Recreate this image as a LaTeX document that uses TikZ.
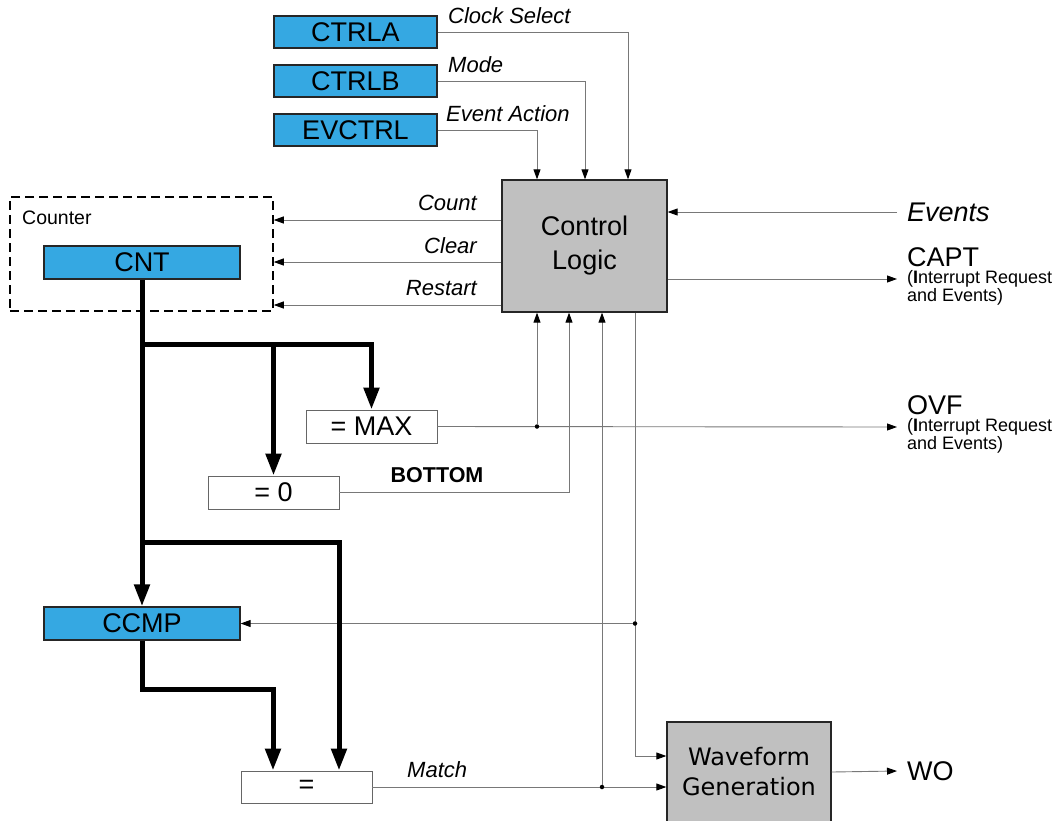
\documentclass[tikz,border=0pt]{standalone}
\usepackage{fontspec}
\setmainfont{Liberation Sans}
\newfontfamily\dvs{DejaVu Sans}
\usetikzlibrary{arrows.meta}
\definecolor{regblue}{RGB}{53,168,226}
\definecolor{logicgray}{RGB}{192,192,192}
\definecolor{wirec}{RGB}{120,120,120}
\newcommand{\fs}[1]{\fontsize{#1}{#1}\selectfont}
\begin{document}
\begin{tikzpicture}[x=1pt,y=-1pt,
  reg/.style={draw=black!85, line width=1.3pt, fill=regblue, inner sep=0pt, font=\fs{27}},
  cmpbox/.style={draw=black!60, line width=0.9pt, fill=white, inner sep=0pt, font=\fs{27}},
  logic/.style={draw=black!85, line width=1.3pt, fill=logicgray, inner sep=0pt, align=center},
  lbl/.style={inner sep=0pt, font=\fs{22}\itshape},
  outl/.style={inner sep=0pt, anchor=west},
  wire/.style={draw=wirec, line width=0.9pt},
  arr/.style={-{Triangle[length=10pt,width=7pt,color=black]}},
  bus/.style={draw=black, line width=5pt, line join=miter},
  busarr/.style={-{Triangle[length=22pt,width=15pt]}},
  dot/.style={circle, fill=black, inner sep=0pt, minimum size=4.5pt}
]
\useasboundingbox (0,0) rectangle (1063,820);

% register boxes
\node[reg, minimum width=163, minimum height=32] (ctrla) at (355.5,32) {CTRLA};
\node[reg, minimum width=163, minimum height=32] (ctrlb) at (355.5,81) {CTRLB};
\node[reg, minimum width=163, minimum height=32] (evctrl) at (355.5,130) {EVCTRL};
\node[lbl, anchor=west] (lcs) at (448,16) {Clock Select};
\node[lbl, anchor=west] (lmo) at (448,65) {Mode};
\node[lbl, anchor=west] (lea) at (446,114) {Event Action};

% control logic
\node[logic, minimum width=165, minimum height=132, font=\fs{27}] (ctrl) at (584.5,246) {Control\\[7pt]Logic};

% counter group
\node[draw=black, line width=1.5pt, dash pattern=on 9pt off 5pt, minimum width=263, minimum height=114, inner sep=0pt] (counter) at (141.5,254) {};
\node[inner sep=0pt, anchor=west, font=\fs{19.5}] (lcounter) at (22,218) {Counter};
\node[reg, minimum width=196, minimum height=33] (cnt) at (142,262.5) {CNT};

% comparators
\node[cmpbox, minimum width=131, minimum height=33] (max) at (371.5,426.5) {= MAX};
\node[cmpbox, minimum width=131, minimum height=33] (zero) at (273.5,492.5) {= 0};
\node[inner sep=0pt, font=\fs{21.5}\bfseries] (bottom) at (437,475) {BOTTOM};
\node[reg, minimum width=196, minimum height=33] (ccmp) at (142,623.5) {CCMP};
\node[cmpbox, minimum width=131, minimum height=32] (eq) at (306.5,787) {=};
\node[lbl, anchor=west] (lmatch) at (407,770) {Match};

% waveform generation
\node[logic, minimum width=164, minimum height=100, font=\dvs\fs{24}] (wave) at (749,772) {Waveform\\[6pt]Generation};

% outputs
\node[outl, font=\fs{27}\itshape] (ev) at (907,212) {Events};
\node[outl, font=\fs{27}] (capt) at (907,257) {CAPT};
\node[outl, font=\fs{18}] (capt2) at (907,279) {(\textbf{I}nterrupt Request};
\node[outl, font=\fs{18}] (capt3) at (907,297) {and Events)};
\node[outl, font=\fs{27}] (ovf) at (907,405) {OVF};
\node[outl, font=\fs{18}] (ovf2) at (907,427) {(\textbf{I}nterrupt Request};
\node[outl, font=\fs{18}] (ovf3) at (907,445) {and Events)};
\node[outl, font=\fs{27}] (wo) at (907,771) {WO};

% counter labels
\node[lbl, anchor=east] (lcount) at (477,203) {Count};
\node[lbl, anchor=east] (lclear) at (477,246) {Clear};
\node[lbl, anchor=east] (lrestart) at (477,288) {Restart};

% column coordinates below control logic
\coordinate (c1) at ([xshift=-47.5pt]ctrl.south);
\coordinate (c2) at ([xshift=-15.5pt]ctrl.south);
\coordinate (c3) at ([xshift=17.5pt]ctrl.south);
\coordinate (c4) at ([xshift=50.5pt]ctrl.south);

% register to control logic
\draw[wire, arr] (ctrla.east) -| ([xshift=43.5pt]ctrl.north);
\draw[wire, arr] (ctrlb.east) -| ([xshift=0.5pt]ctrl.north);
\draw[wire, arr] (evctrl.east) -| ([xshift=-47.5pt]ctrl.north);

% control logic to counter
\coordinate (pc1) at ([yshift=26pt]ctrl.west);
\coordinate (pc2) at ([yshift=-16pt]ctrl.west);
\coordinate (pc3) at ([yshift=-59pt]ctrl.west);
\draw[wire, arr] (pc1) -- (pc1 -| counter.east);
\draw[wire, arr] (pc2) -- (pc2 -| counter.east);
\draw[wire, arr] (pc3) -- (pc3 -| counter.east);

% events and capt
\draw[wire, arr] ([xshift=-10pt]ev.west) -- (ev.west -| ctrl.east);
\draw[wire, arr] (capt2.west -| ctrl.east) -- ([xshift=-10pt]capt2.west);

% max / ovf
\draw[wire, arr] (max.east) -- ([xshift=-10pt]ovf2.west);
\node[dot] (d1) at (max.east -| c1) {};
\draw[wire, arr] (d1) -- (c1);
\draw[wire, arr] (zero.east) -| (c2);

% match
\draw[wire, arr] (eq.east) -- (eq.east -| wave.west);
\node[dot] (d3) at (eq.east -| c3) {};
\draw[wire, arr] (d3) -- (c3);
\draw[wire, arr] (c4) |- ([yshift=16pt]wave.west);
\node[dot] (d4) at (ccmp.east -| c4) {};
\draw[wire, arr] (d4) -- (ccmp.east);
\draw[wire, arr] (wave.east) -- ([xshift=-10pt]wo.west);

% buses
\coordinate (j1) at (142,344);
\coordinate (j2) at (142,542);
\draw[bus, busarr] (cnt.south) -- (ccmp.north);
\draw[bus, busarr] (j1) -| (max.north);
\draw[bus, busarr] (j1 -| zero.north) -- (zero.north);
\draw[bus, busarr] (j2) -| ([xshift=32.5pt]eq.north);
\draw[bus, busarr] (ccmp.south) -- ++(0,49) -| ([xshift=-33.5pt]eq.north);
\end{tikzpicture}
\end{document}
